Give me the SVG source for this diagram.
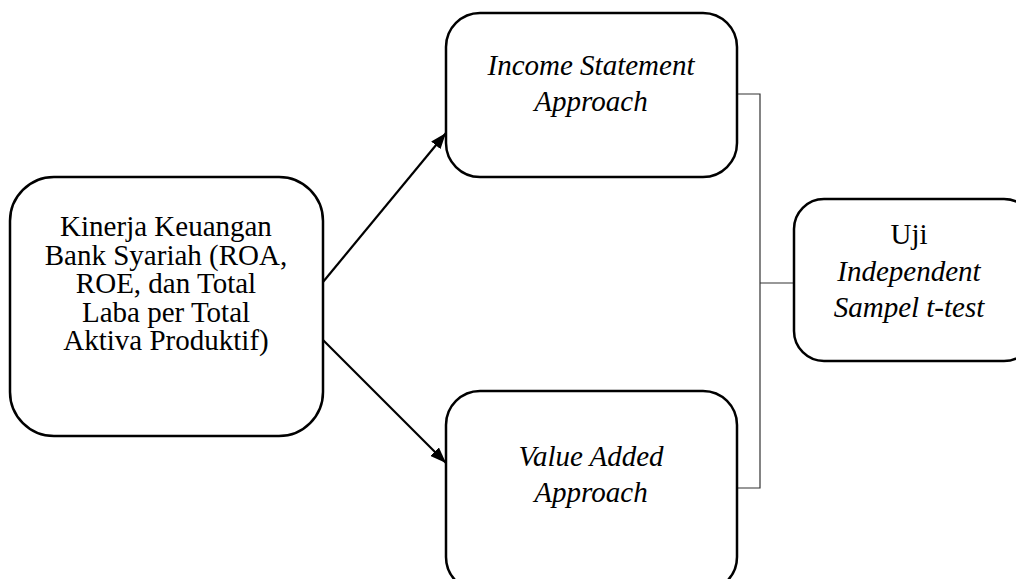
<svg xmlns="http://www.w3.org/2000/svg" width="1016" height="579" viewBox="0 0 1016 579">
<style>
.box{fill:#fff;stroke:#000;stroke-width:2.5}
.t{font-family:"Liberation Serif","Times New Roman",serif;font-size:29px;fill:#000;text-anchor:middle}
.i{font-style:italic}
.arr{stroke:#000;stroke-width:2.2;fill:none}
.ln{stroke:#333;stroke-width:1.2;fill:none}
</style>
<defs>
<marker id="ah" markerWidth="10" markerHeight="8" refX="9" refY="4" orient="auto" markerUnits="userSpaceOnUse" viewBox="0 0 10 8">
<path d="M0,0 L10,4 L0,8 Z" fill="#000"/>
</marker>
<marker id="ah2" viewBox="0 0 16 12" refX="16" refY="6" markerWidth="16" markerHeight="12" orient="auto" markerUnits="userSpaceOnUse">
<path d="M0,0 L16,6 L0,12 Z" fill="#000"/>
</marker>
</defs>
<rect width="1016" height="579" fill="#fff"/>
<g id="connectors">
<line class="arr" x1="323" y1="282" x2="446" y2="133" marker-end="url(#ah2)"/>
<line class="arr" x1="323" y1="340" x2="446" y2="463" marker-end="url(#ah2)"/>
<polyline class="ln" points="737,94 760,94 760,488 737,488"/>
<line class="ln" x1="760" y1="283" x2="794" y2="283"/>
</g>
<g id="kinerja">
<rect class="box" x="10" y="177" width="313" height="259" rx="44"/>
<text class="t" x="166" y="236">Kinerja Keuangan</text>
<text class="t" x="166" y="264.5">Bank Syariah (ROA,</text>
<text class="t" x="166" y="293">ROE, dan Total</text>
<text class="t" x="166" y="321.5">Laba per Total</text>
<text class="t" x="166" y="350">Aktiva Produktif)</text>
</g>
<g id="income">
<rect class="box" x="446" y="13" width="291" height="164" rx="34"/>
<text class="t i" x="591" y="75">Income Statement</text>
<text class="t i" x="591" y="111">Approach</text>
</g>
<g id="value">
<rect class="box" x="446" y="391" width="291" height="200" rx="34"/>
<text class="t i" x="591" y="466">Value Added</text>
<text class="t i" x="591" y="502">Approach</text>
</g>
<g id="uji">
<rect class="box" x="794" y="199" width="240" height="162" rx="30"/>
<text class="t" x="909" y="244">Uji</text>
<text class="t i" x="909" y="281">Independent</text>
<text class="t i" x="909" y="317">Sampel t-test</text>
</g>
</svg>
